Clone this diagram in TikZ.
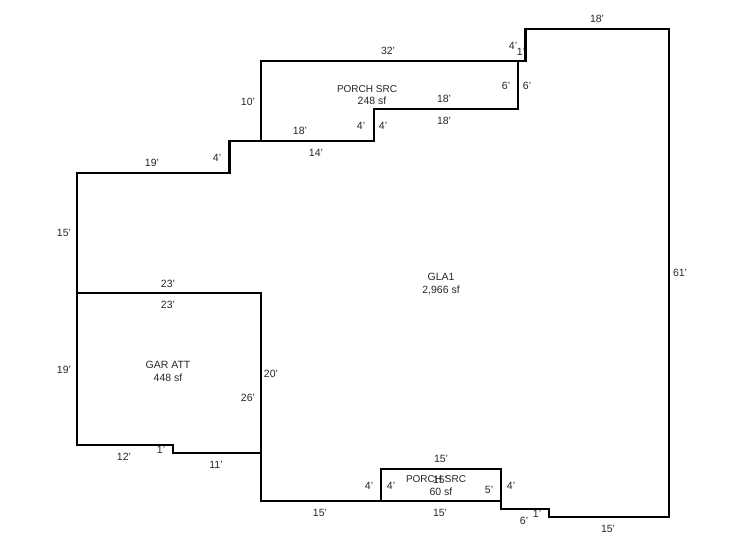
\documentclass[tikz,border=0pt]{standalone}
\usepackage{fontspec}
\setmainfont{Liberation Sans}
\usetikzlibrary{positioning}

\tikzset{
    wall/.style={draw=black, line width=2.7pt, line join=miter},
    dim/.style={inner sep=0pt, yshift=-1pt, font=\fontsize{10.5}{12}\selectfont, text=black!85},
    area/.style={inner sep=0pt, yshift=-1pt, align=center, font=\fontsize{10.5}{12.6}\selectfont, text=black!85}
}

\begin{document}
\begin{tikzpicture}[x=1pt, y=-1pt]
        \useasboundingbox (0,0) rectangle (746,547);

        % main outline
        \draw[wall] (77,173) -- (229.5,173) -- (229.5,141) -- (374,141) -- (374,109)
            -- (518,109) -- (518,61) -- (525.5,61) -- (525.5,29) -- (669,29)
            -- (669,517) -- (549,517) -- (549,509) -- (501,509) -- (501,501)
            -- (261,501) -- (261,453) -- (173,453) -- (173,445) -- (77,445) -- cycle;

        % porch at the top
        \draw[wall] (261,141) -- (261,61) -- (518,61);

        % porch at the bottom
        \draw[wall] (381,501) -- (381,469) -- (501,469) -- (501,501);

        % garage
        \draw[wall] (77,293) -- (261,293) -- (261,453);

        \node[area] (gla) at (441,283) {GLA1\\2,966 sf};
        \node[area] (gar) at (168,370.5) {GAR ATT\\448 sf};
        \node[area] (porchtop) at (367,94) {\fontsize{10}{12.6}\selectfont PORCH SRC\\\hspace{10pt}248 sf};
        \node[area] (porchlow) at (436,484.5) {\fontsize{10}{12.6}\selectfont PORCH SRC\\\hspace{10pt}60 sf};

        \node[dim] (top18) at (597,18) {18'};
        \node[dim] (top32) at (388,50) {32'};
        \node[dim] (step4) at (513,45) {4'};
        \node[dim] (step1) at (521,51) {1'};
        \node[dim] (in6) at (506,85) {6'};
        \node[dim] (out6) at (527,85) {6'};
        \node[dim] (in18) at (444,98) {18'};
        \node[dim] (out18) at (444,120) {18'};
        \node[dim] (left10) at (248,101) {10'};
        \node[dim] (low18) at (300,130) {18'};
        \node[dim] (in4) at (361,125) {4'};
        \node[dim] (out4) at (383,125) {4'};
        \node[dim] (out14) at (316,152) {14'};
        \node[dim] (rise4) at (217,157) {4'};
        \node[dim] (top19) at (152,162) {19'};
        \node[dim] (left15) at (64,232) {15'};
        \node[dim] (gar23a) at (168,283) {23'};
        \node[dim] (gar23b) at (168,304) {23'};
        \node[dim] (right61) at (680,272) {61'};
        \node[dim] (left19) at (64,369) {19'};
        \node[dim] (side20) at (271,373) {20'};
        \node[dim] (side26) at (248,397) {26'};
        \node[dim] (gar12) at (124,456) {12'};
        \node[dim] (gar1) at (161,449) {1'};
        \node[dim] (gar11) at (216,464) {11'};
        \node[dim] (pch15a) at (441,458) {15'};
        \node[dim] (pch15b) at (440,479) {15'};
        \node[dim] (pch4a) at (369,485) {4'};
        \node[dim] (pch4b) at (391,485) {4'};
        \node[dim] (pch5) at (489,489) {5'};
        \node[dim] (pch4c) at (511,485) {4'};
        \node[dim] (low15a) at (320,512) {15'};
        \node[dim] (low15b) at (440,512) {15'};
        \node[dim] (low6) at (524,520) {6'};
        \node[dim] (low1) at (537,513) {1'};
        \node[dim] (low15c) at (608,528) {15'};
    \end{tikzpicture}
\end{document}
